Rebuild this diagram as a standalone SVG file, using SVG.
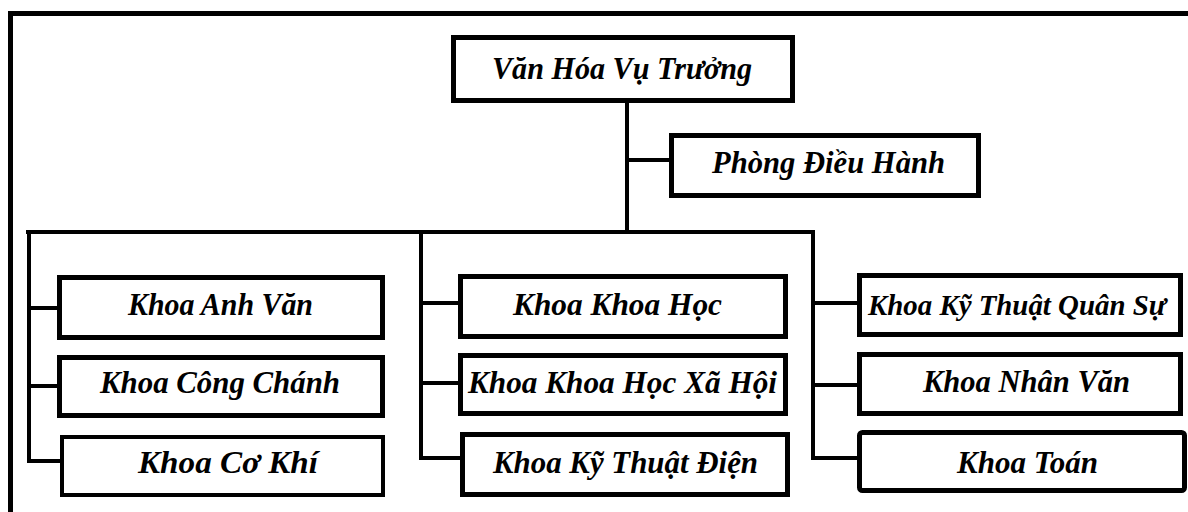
<svg xmlns="http://www.w3.org/2000/svg" width="1188" height="512" viewBox="0 0 1188 512">
<style>
.box{fill:#fff;stroke:#000;stroke-width:5}
.thin{stroke-width:4}
.lbl{font-family:"Liberation Serif","Times New Roman",serif;font-style:italic;font-weight:bold;font-size:32px;fill:#000}
.con{fill:none;stroke:#000;stroke-width:4}
</style>
<rect width="1188" height="512" fill="#fff"/>
<path d="M10.5,512 V13.5 H1188" fill="none" stroke="#000" stroke-width="5"/>
<g id="connectors">
<path class="con" d="M627,101 V232 M627,160 H671"/>
<path class="con" d="M26,232 H814"/>
<path class="con" d="M29,230 V463 M29,308 H59 M29,386 H59 M29,461 H62"/>
<path class="con" d="M421,230 V460 M421,303 H460 M421,383 H460 M421,458 H462"/>
<path class="con" d="M813,230 V460 M813,303 H859 M813,385 H859 M813,458 H859"/>
</g>
<g id="van-hoa-vu-truong"><rect class="box" x="453.5" y="37.5" width="339" height="63"/><text class="lbl" x="492" y="79" textLength="260" lengthAdjust="spacingAndGlyphs">Văn Hóa Vụ Trưởng</text></g>
<g id="phong-dieu-hanh"><rect class="box" x="671.5" y="135.5" width="307" height="60"/><text class="lbl" x="712" y="173" textLength="233" lengthAdjust="spacingAndGlyphs">Phòng Điều Hành</text></g>
<g id="khoa-anh-van"><rect class="box" x="59.5" y="277.5" width="323" height="60"/><text class="lbl" x="128" y="315" textLength="185" lengthAdjust="spacingAndGlyphs">Khoa Anh Văn</text></g>
<g id="khoa-cong-chanh"><rect class="box" x="59.5" y="357.5" width="323" height="58"/><text class="lbl" x="100" y="393" textLength="240" lengthAdjust="spacingAndGlyphs">Khoa Công Chánh</text></g>
<g id="khoa-co-khi"><rect class="box thin" x="62" y="437" width="321" height="58"/><text class="lbl" x="138" y="473" textLength="180" lengthAdjust="spacingAndGlyphs">Khoa Cơ Khí</text></g>
<g id="khoa-khoa-hoc"><rect class="box" x="460.5" y="276.5" width="325" height="60"/><text class="lbl" x="513" y="315" textLength="209" lengthAdjust="spacingAndGlyphs">Khoa Khoa Học</text></g>
<g id="khoa-khoa-hoc-xa-hoi"><rect class="box" x="460.5" y="355.5" width="325" height="58"/><text class="lbl" x="468" y="393" textLength="309" lengthAdjust="spacingAndGlyphs">Khoa Khoa Học Xã Hội</text></g>
<g id="khoa-ky-thuat-dien"><rect class="box" x="462.5" y="434.5" width="325" height="60"/><text class="lbl" x="493" y="473" textLength="265" lengthAdjust="spacingAndGlyphs">Khoa Kỹ Thuật Điện</text></g>
<g id="khoa-ky-thuat-quan-su"><rect class="box" x="859.5" y="275.5" width="321" height="59"/><text class="lbl" x="868" y="315" textLength="298" lengthAdjust="spacingAndGlyphs" style="font-size:30px">Khoa Kỹ Thuật Quân Sự</text></g>
<g id="khoa-nhan-van"><rect class="box" x="859.5" y="354.5" width="321" height="59"/><text class="lbl" x="923" y="392" textLength="207" lengthAdjust="spacingAndGlyphs">Khoa Nhân Văn</text></g>
<g id="khoa-toan"><rect class="box" x="859.5" y="432.5" width="325" height="58" rx="3"/><text class="lbl" x="957" y="473" textLength="141" lengthAdjust="spacingAndGlyphs">Khoa Toán</text></g>
</svg>
